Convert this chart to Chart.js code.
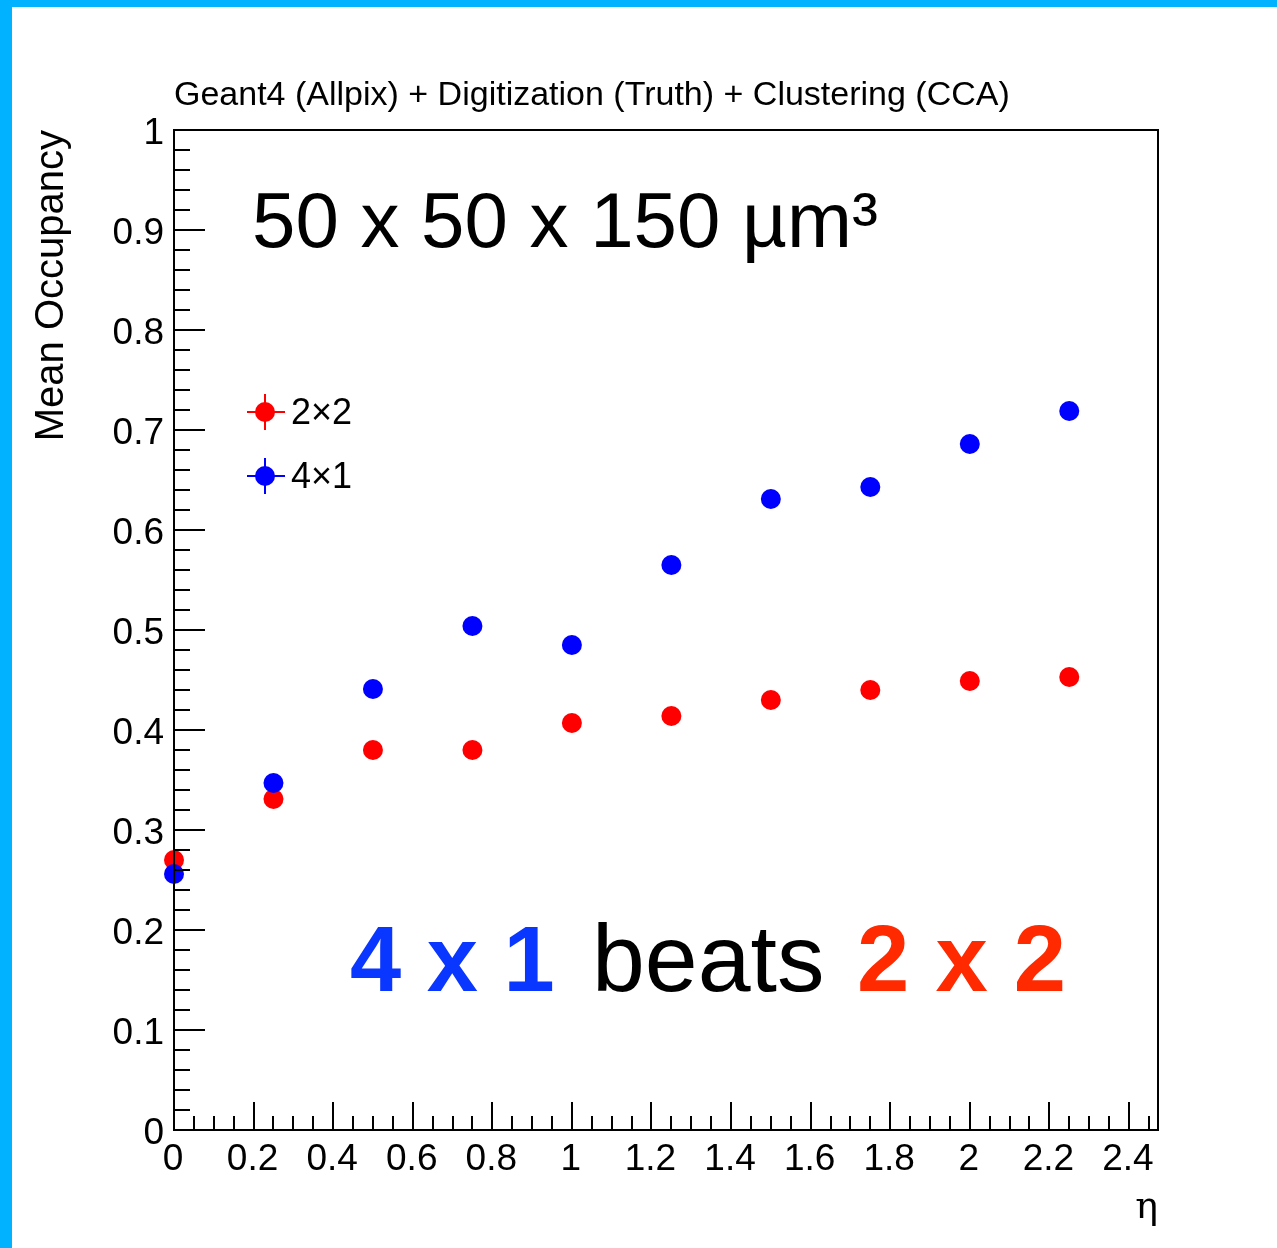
<!DOCTYPE html>
<html>
<head>
<meta charset="utf-8">
<script src="https://cdn.jsdelivr.net/npm/chart.js@4/dist/chart.umd.min.js"></script>
<style>
  html, body { margin: 0; padding: 0; background: #fff; }
  canvas { display: block; }
</style>
</head>
<body>
<canvas id="c" width="1277" height="1248"></canvas>
<script>
// ---- data ----
const etaValues = [0, 0.25, 0.5, 0.75, 1, 1.25, 1.5, 1.75, 2, 2.25];
const occ2x2 = [0.270, 0.331, 0.380, 0.380, 0.407, 0.414, 0.430, 0.440, 0.449, 0.453];
const occ4x1 = [0.256, 0.347, 0.441, 0.504, 0.485, 0.565, 0.631, 0.643, 0.686, 0.719];
const seriesNames = ["2\u00d72", "4\u00d71"];
const xTickValues = [0, 0.2, 0.4, 0.6, 0.8, 1, 1.2, 1.4, 1.6, 1.8, 2, 2.2, 2.4];
const xTickLabels = ["0", "0.2", "0.4", "0.6", "0.8", "1", "1.2", "1.4", "1.6", "1.8", "2", "2.2", "2.4"];
const yTickValues = [0, 0.1, 0.2, 0.3, 0.4, 0.5, 0.6, 0.7, 0.8, 0.9, 1];
const yTickLabels = ["0", "0.1", "0.2", "0.3", "0.4", "0.5", "0.6", "0.7", "0.8", "0.9", "1"];
const xMinorStep = 0.05;
const yMinorStep = 0.02;
const xMax = 2.473;
const titleText = "Geant4 (Allpix) + Digitization (Truth) + Clustering (CCA)";
const yTitle = "Mean Occupancy";
const xTitle = "\u03b7";
const sizeText = "50 x 50 x 150 \u00b5m\u00b3";

const FONT = "'Liberation Sans', Helvetica, Arial, sans-serif";
const RED = "#ff0000";
const BLUE = "#0000ff";

const toPts = (xs, ys) => xs.map((x, i) => ({ x: x, y: ys[i] }));

const decorPlugin = {
  id: 'decor',
  beforeDraw(chart) {
    const ctx = chart.ctx;
    ctx.save();
    ctx.fillStyle = '#00b2ff';
    ctx.fillRect(0, 0, chart.width, 7);
    ctx.fillRect(0, 0, 12, chart.height);
    ctx.restore();
  },
  afterDatasetsDraw(chart) {
    const ctx = chart.ctx;
    const xs = chart.scales.x, ys = chart.scales.y;
    const a = chart.chartArea;
    ctx.save();
    // frame
    ctx.strokeStyle = '#000';
    ctx.lineWidth = 2;
    ctx.strokeRect(a.left, a.top, a.right - a.left, a.bottom - a.top);
    // x ticks
    ctx.lineWidth = 2;
    ctx.beginPath();
    for (let v = 0; v <= xMax + 1e-9; v += xMinorStep) {
      const vv = Math.round(v * 1000) / 1000;
      const px = Math.round(xs.getPixelForValue(vv));
      const isMajor = xTickValues.some(t => Math.abs(t - vv) < 1e-6);
      const len = isMajor ? 28 : 14;
      ctx.moveTo(px, a.bottom);
      ctx.lineTo(px, a.bottom - len);
    }
    // y ticks
    for (let v = 0; v <= 1 + 1e-9; v += yMinorStep) {
      const vv = Math.round(v * 1000) / 1000;
      const py = Math.round(ys.getPixelForValue(vv));
      const isMajor = yTickValues.some(t => Math.abs(t - vv) < 1e-6);
      const len = isMajor ? 31 : 16;
      ctx.moveTo(a.left, py);
      ctx.lineTo(a.left + len, py);
    }
    ctx.stroke();

    // tick labels
    ctx.fillStyle = '#000';
    ctx.font = "37px " + FONT;
    ctx.textAlign = 'center';
    ctx.textBaseline = 'alphabetic';
    xTickValues.forEach((v, i) => {
      ctx.fillText(xTickLabels[i], xs.getPixelForValue(v) - 1, a.bottom + 40);
    });
    ctx.textAlign = 'right';
    yTickValues.forEach((v, i) => {
      ctx.fillText(yTickLabels[i], a.left - 10, ys.getPixelForValue(v) + 14);
    });

    // title
    ctx.textAlign = 'left';
    ctx.font = "34px " + FONT;
    ctx.fillText(titleText, a.left, 105);

    // y title
    ctx.save();
    ctx.translate(63, a.top);
    ctx.rotate(-Math.PI / 2);
    ctx.textAlign = 'right';
    ctx.font = "40px " + FONT;
    ctx.fillText(yTitle, 0, 0);
    ctx.restore();

    // x title
    ctx.textAlign = 'right';
    ctx.font = "38px 'DejaVu Serif', serif";
    ctx.fillText(xTitle, a.right, 1218);

    // size annotation
    ctx.textAlign = 'left';
    ctx.font = "78px " + FONT;
    ctx.fillText(sizeText, 252, 247);

    // big statement
    ctx.font = "bold 92px " + FONT;
    ctx.fillStyle = '#0a37ff';
    ctx.fillText("4 x 1", 350, 991);
    ctx.font = "95px " + FONT;
    ctx.fillStyle = '#000';
    ctx.fillText("beats", 592, 991);
    ctx.font = "bold 94px " + FONT;
    ctx.fillStyle = '#ff2a00';
    ctx.fillText("2 x 2", 857, 991);

    // legend
    const legendRows = [
      { name: seriesNames[0], color: RED, y: 412 },
      { name: seriesNames[1], color: BLUE, y: 476 }
    ];
    legendRows.forEach(r => {
      ctx.strokeStyle = r.color;
      ctx.lineWidth = 2;
      ctx.beginPath();
      ctx.moveTo(247, r.y); ctx.lineTo(285, r.y);
      ctx.moveTo(265, r.y - 18); ctx.lineTo(265, r.y + 18);
      ctx.stroke();
      ctx.fillStyle = r.color;
      ctx.beginPath();
      ctx.arc(265, r.y, 10, 0, Math.PI * 2);
      ctx.fill();
      ctx.fillStyle = '#000';
      ctx.font = "36px " + FONT;
      ctx.textAlign = 'left';
      ctx.fillText(r.name, 291, r.y + 12);
    });
    ctx.restore();
  }
};

new Chart(document.getElementById('c'), {
  type: 'scatter',
  data: {
    datasets: [
      { label: seriesNames[0], data: toPts(etaValues, occ2x2), backgroundColor: RED, borderColor: RED,
        pointRadius: 10, pointHoverRadius: 10, borderWidth: 0, order: 1, clip: false },
      { label: seriesNames[1], data: toPts(etaValues, occ4x1), backgroundColor: BLUE, borderColor: BLUE,
        pointRadius: 10, pointHoverRadius: 10, borderWidth: 0, order: 0, clip: false }
    ]
  },
  options: {
    responsive: false,
    devicePixelRatio: 1,
    animation: false,
    layout: { padding: { left: 174, top: 130, right: 119, bottom: 118 } },
    plugins: { legend: { display: false }, tooltip: { enabled: false }, title: { display: false } },
    scales: {
      x: { type: 'linear', min: 0, max: xMax, display: false },
      y: { type: 'linear', min: 0, max: 1, display: false }
    }
  },
  plugins: [decorPlugin]
});
</script>
</body>
</html>
